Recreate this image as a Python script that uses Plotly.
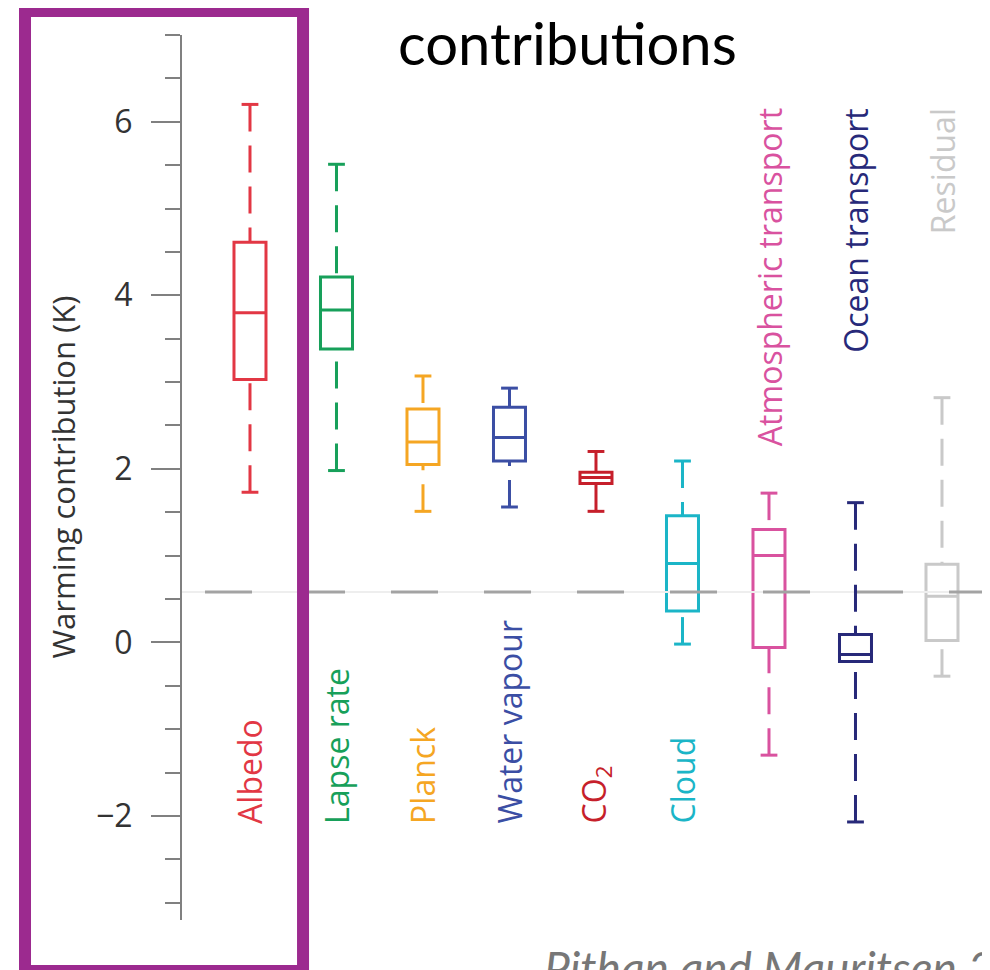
import plotly.graph_objects as go

# feedback terms (K)
terms = ["Albedo", "Lapse rate", "Planck", "Water vapour", "CO<sub>2</sub>",
         "Cloud", "Atmospheric transport", "Ocean transport", "Residual"]
upper = [6.20, 5.51, 3.07, 2.93, 2.20, 2.09, 1.72, 1.61, 2.82]
q3 = [4.61, 4.21, 2.69, 2.71, 1.96, 1.46, 1.30, 0.09, 0.90]
median = [3.80, 3.83, 2.31, 2.36, 1.90, 0.91, 1.00, -0.14, 0.53]
q1 = [3.03, 3.38, 2.05, 2.09, 1.83, 0.36, -0.06, -0.22, 0.02]
lower = [1.73, 1.98, 1.51, 1.56, 1.51, -0.02, -1.30, -2.07, -0.39]
label_top = [False, False, False, False, False, False, True, True, True]
colors = ["#e23744", "#17a05a", "#f5a623", "#3b4ea4", "#c61f2b",
          "#1bb5c7", "#d9529f", "#272979", "#c9c9c9"]
mean_level = 0.58

fig = go.Figure()

# faint line under the dashed reference level
fig.add_trace(go.Scatter(x=[-0.79, 8.6], y=[mean_level, mean_level], mode="lines",
                         line=dict(color="#eeeeee", width=2), hoverinfo="skip"))
fig.add_trace(go.Scatter(x=[-0.52, 8.6], y=[mean_level, mean_level], mode="lines",
                         line=dict(color="#a3a3a3", width=3, dash="47px,46px"),
                         hoverinfo="skip"))

for i, name in enumerate(terms):
    c = colors[i]
    # whiskers, dashed, drawn from the caps towards the box
    fig.add_trace(go.Scatter(x=[i, i, None, i, i],
                             y=[upper[i], q3[i], None, lower[i], q1[i]],
                             mode="lines", line=dict(color=c, width=3, dash="27px,14px"),
                             hoverinfo="skip"))
    fig.add_trace(go.Scatter(x=[i, i], y=[upper[i], lower[i]], mode="markers",
                             marker=dict(symbol="line-ew", size=12,
                                         line=dict(color=c, width=3)),
                             hoverinfo="skip"))
    fig.add_trace(go.Box(x=[i], q1=[q1[i]], median=[median[i]], q3=[q3[i]],
                         lowerfence=[q1[i]], upperfence=[q3[i]], width=0.37,
                         whiskerwidth=0, fillcolor="rgba(0,0,0,0)",
                         line=dict(color=c, width=3), name=name, hoverinfo="skip"))
    if label_top[i]:
        fig.add_annotation(x=i, y=6.18, text=name, textangle=-90, showarrow=False,
                           xanchor="center", yanchor="top",
                           font=dict(family="Open Sans", size=32, color=c))
    else:
        fig.add_annotation(x=i, y=-2.11, text=name, textangle=-90, showarrow=False,
                           xanchor="center", yanchor="bottom",
                           font=dict(family="Open Sans", size=32, color=c))

# axis title
fig.add_annotation(xref="paper", yref="paper", x=-0.1485, y=0.5,
                   text="Warming contribution (K)", textangle=-90, showarrow=False,
                   xanchor="center", yanchor="middle",
                   font=dict(family="Open Sans", size=31, color="#333333"))
# slide title and citation
fig.add_annotation(xref="paper", yref="paper", x=0.4765, y=0.992,
                   text="contributions", showarrow=False,
                   xanchor="center", yanchor="middle",
                   font=dict(family="Lato", size=58, color="#000000"))
fig.add_annotation(xref="paper", yref="paper", x=0.4455, y=-0.0203,
                   text="<i>Pithan and Mauritsen 2014</i>", showarrow=False,
                   xanchor="left", yanchor="top",
                   font=dict(family="Lato", size=46, color="#777777"))

# purple highlight frame
fig.add_shape(type="rect", xref="paper", yref="paper",
              x0=-0.1943, x1=0.1498, y0=-0.0576, y1=1.0271,
              line=dict(color="#9c2a8f", width=12), fillcolor="rgba(0,0,0,0)")

# page adds an 8px body margin, so the plot area is pulled up/left by 8px
fig.update_layout(
    width=990, height=970,
    margin=dict(l=174, r=8, t=27, b=58),
    plot_bgcolor="white", paper_bgcolor="white",
    showlegend=False,
    xaxis=dict(visible=False, range=[-0.786, 8.555]),
    yaxis=dict(range=[-3.2, 7.0], showgrid=False, zeroline=False,
               showline=True, linecolor="#808080", linewidth=2,
               ticks="outside", ticklen=29, tickwidth=2, tickcolor="#808080",
               tick0=0, dtick=2, ticklabelstandoff=12,
               tickfont=dict(family="Open Sans", size=32, color="#333333"),
               minor=dict(ticks="outside", ticklen=15, tickwidth=2,
                          tickcolor="#808080", dtick=0.5)),
)

fig.write_html("out.html")
